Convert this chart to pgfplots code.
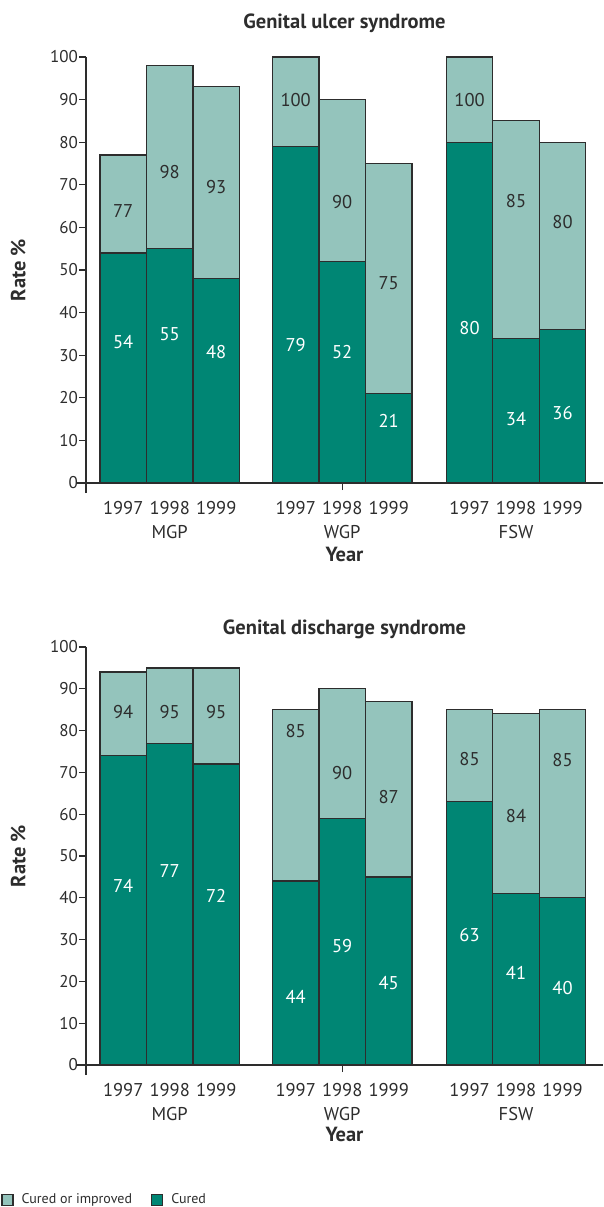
\documentclass[border=0pt]{standalone}
\usepackage{pgfplots}
\pgfplotsset{compat=1.18}
\usepackage{fontspec}
\setmainfont{PT Sans}
\definecolor{cured}{RGB}{0,134,116}
\definecolor{improved}{RGB}{148,196,188}
\definecolor{ink}{RGB}{45,45,45}
\newcommand\labfont{\fontsize{18.5}{24}\selectfont}
\newcommand\tickfont{\fontsize{17}{20}\selectfont}
\newcommand\legfont{\fontsize{14}{17}\selectfont}
\newcommand\headfont{\fontsize{20.5}{24}\selectfont\bfseries}

\pgfplotsset{
  rateaxis/.style={
    width=517pt, scale only axis, clip=false,
    xmin=-0.8, xmax=10.32, ymin=0, ymax=100,
    axis x line=bottom, axis y line=left,
    axis line style={-, ink, line width=1.3pt, shorten <=-10pt},
    ytick={0,10,...,100},
    major tick length=7pt, tick align=outside,
    tick style={ink, line width=1.3pt},
    xtick={4.71}, xticklabels={},
    extra x ticks={0,1,2,3.71,4.71,5.71,7.45,8.45,9.45},
    extra x tick labels={1997,{1998\\MGP},1999,1997,{1998\\WGP},1999,1997,{1998\\FSW},1999},
    extra x tick style={major tick length=0pt},
    xticklabel style={align=center, font=\labfont, text=ink, anchor=north, yshift=-15pt},
    yticklabel style={font=\tickfont, text=ink, inner sep=1pt},
    /pgf/number format/assume math mode=true,
    ylabel={Rate \%}, xlabel={Year},
    every axis y label/.style={at={(axis description cs:-0.131,0.5)}, rotate=90,
      anchor=center, font=\headfont, text=ink},
  },
  squarelegend/.style={legend image code/.code={\draw[##1] (0pt,-5.5pt) rectangle (11pt,5.5pt);}},
  lightbar/.style={ybar, bar width=1, bar shift=0pt, fill=improved, draw=ink, line width=1.2pt, squarelegend},
  darkbar/.style={ybar, bar width=1, bar shift=0pt, fill=cured, draw=ink, line width=1.2pt, squarelegend},
  darktext/.style={draw=none, forget plot, point meta=explicit symbolic, nodes near coords,
    nodes near coords align={anchor=center},
    every node near coord/.append style={font=\labfont, text=ink, inner sep=0pt}},
  whitetext/.style={draw=none, forget plot, point meta=explicit symbolic, nodes near coords,
    nodes near coords align={anchor=center},
    every node near coord/.append style={font=\labfont, text=white, inner sep=0pt}},
}

\begin{document}
\begin{tikzpicture}
\useasboundingbox (-86pt,-724pt) rectangle (517pt,483pt);

% Genital ulcer syndrome
\begin{axis}[rateaxis, height=426pt, at={(0pt,0pt)}, anchor=south west,
  title={Genital ulcer syndrome},
  every axis title/.style={at={(axis description cs:0.5,1.08)}, anchor=center,
    font=\headfont, text=ink},
  every axis x label/.style={at={(axis description cs:0.5,-0.167)}, anchor=center,
    font=\headfont, text=ink}]
\addplot[lightbar] coordinates {
  (0,77) (1,98) (2,93) (3.71,100) (4.71,90) (5.71,75) (7.45,100) (8.45,85) (9.45,80)};
\addplot[darkbar] coordinates {
  (0,54) (1,55) (2,48) (3.71,79) (4.71,52) (5.71,21) (7.45,80) (8.45,34) (9.45,36)};
\addplot[darktext] coordinates {
  (0,63.8)[77] (1,73)[98] (2,69.5)[93] (3.71,89.9)[100] (4.71,66)[90] (5.71,47)[75]
  (7.45,89.9)[100] (8.45,66.2)[85] (9.45,61.3)[80]};
\addplot[whitetext] coordinates {
  (0,33.1)[54] (1,35)[55] (2,30.8)[48] (3.71,32.4)[79] (4.71,30.8)[52] (5.71,14.6)[21]
  (7.45,36.4)[80] (8.45,15)[34] (9.45,16.4)[36]};
\end{axis}

% Genital discharge syndrome
\begin{axis}[rateaxis, height=418pt, at={(0pt,-582pt)}, anchor=south west,
  title={Genital discharge syndrome},
  every axis title/.style={at={(axis description cs:0.5,1.043)}, anchor=center,
    font=\headfont, text=ink},
  every axis x label/.style={at={(axis description cs:0.5,-0.166)}, anchor=center,
    font=\headfont, text=ink},
  legend columns=2,
  legend style={draw=none, fill=none, font=\legfont, text=ink, inner sep=0pt,
    at={(axis description cs:-0.164,-0.322)}, anchor=west,
    /tikz/every odd column/.append style={column sep=6pt},
    /tikz/every even column/.append style={column sep=17pt}}]
\addplot[lightbar] coordinates {
  (0,94) (1,95) (2,95) (3.71,85) (4.71,90) (5.71,87) (7.45,85) (8.45,84) (9.45,85)};
\addlegendentry{Cured or improved}
\addplot[darkbar] coordinates {
  (0,74) (1,77) (2,72) (3.71,44) (4.71,59) (5.71,45) (7.45,63) (8.45,41) (9.45,40)};
\addlegendentry{Cured}
\addplot[darktext] coordinates {
  (0,84.4)[94] (1,84.4)[95] (2,84.4)[95] (3.71,79.9)[85] (4.71,69.9)[90] (5.71,64.1)[87]
  (7.45,73.2)[85] (8.45,59.6)[84] (9.45,73)[85]};
\addplot[whitetext] coordinates {
  (0,42.8)[74] (1,46.4)[77] (2,40.4)[72] (3.71,16.3)[44] (4.71,28.5)[59] (5.71,19.6)[45]
  (7.45,31.1)[63] (8.45,22)[41] (9.45,18.4)[40]};
\end{axis}
\end{tikzpicture}
\end{document}
